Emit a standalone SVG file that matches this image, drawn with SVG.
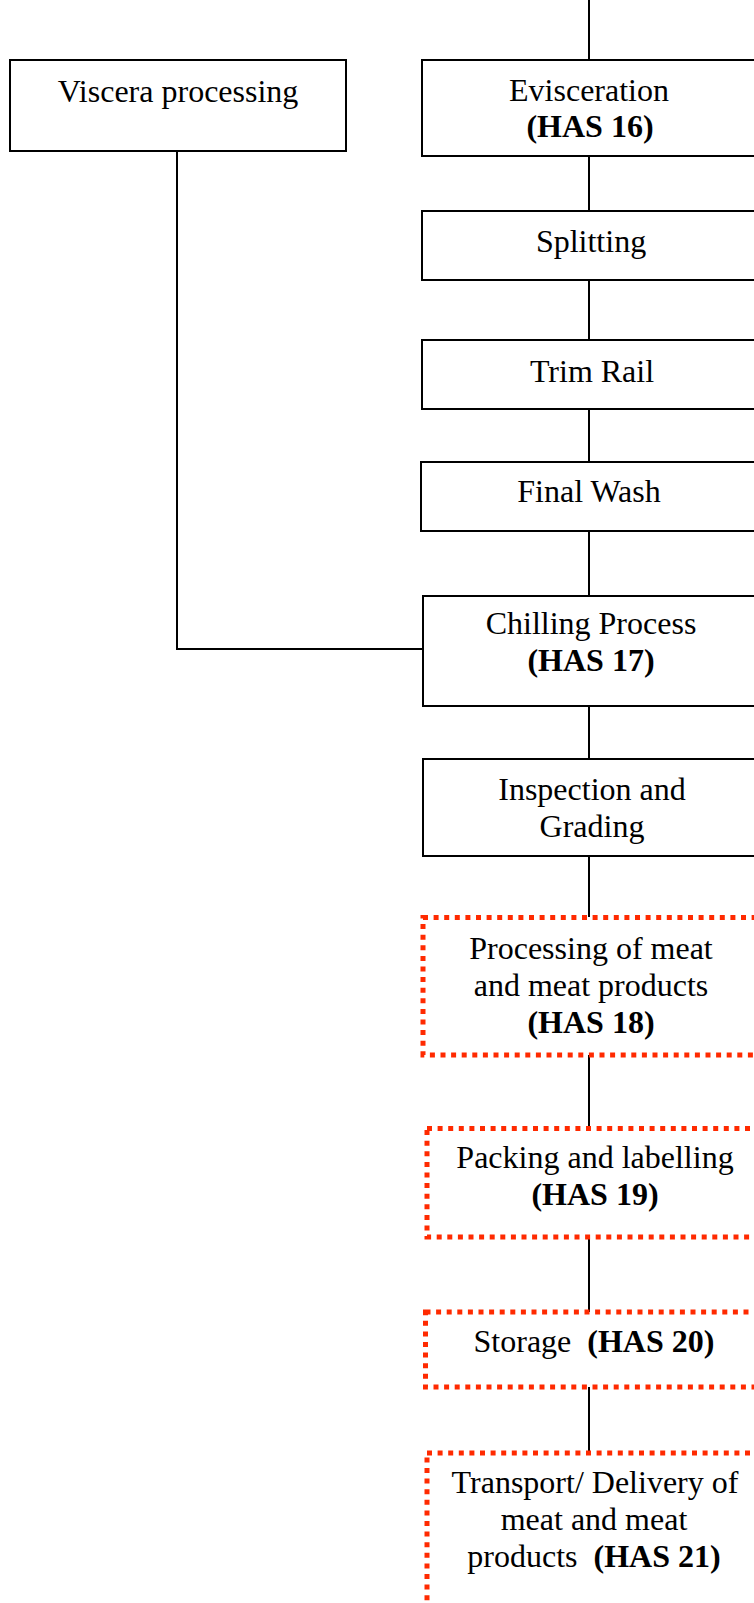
<svg xmlns="http://www.w3.org/2000/svg" width="754" height="1603" viewBox="0 0 754 1603">
<style>
.box{fill:#ffffff;stroke:#000000;stroke-width:2}
.rbox{fill:#ffffff;stroke:#ff2a00;stroke-width:5;stroke-dasharray:5 5.6}
.t{font-family:"Liberation Serif","Times New Roman",serif;font-size:32px;fill:#000000;text-anchor:middle}
.b{font-weight:bold}
.conn{stroke:#000000;stroke-width:2;fill:none}
</style>
<rect x="0" y="0" width="754" height="1603" fill="#ffffff"/>
<g id="connectors">
<line class="conn" x1="589" y1="0" x2="589" y2="60"/>
<line class="conn" x1="589" y1="156" x2="589" y2="211"/>
<line class="conn" x1="589" y1="280" x2="589" y2="340"/>
<line class="conn" x1="589" y1="409" x2="589" y2="462"/>
<line class="conn" x1="589" y1="531" x2="589" y2="596"/>
<line class="conn" x1="589" y1="706" x2="589" y2="759"/>
<line class="conn" x1="589" y1="856" x2="589" y2="917"/>
<line class="conn" x1="589" y1="1055" x2="589" y2="1128"/>
<line class="conn" x1="589" y1="1237" x2="589" y2="1312"/>
<line class="conn" x1="589" y1="1387" x2="589" y2="1453"/>
<polyline class="conn" points="177,151 177,649 423,649"/>
</g>
<g id="viscera">
<rect class="box" x="10" y="60" width="336" height="91"/>
<text class="t" x="178" y="102">Viscera processing</text>
</g>
<g id="evisceration">
<rect class="box" x="422" y="60" width="336" height="96"/>
<text class="t" x="589" y="101">Evisceration</text>
<text class="t b" x="590" y="137">(HAS 16)</text>
</g>
<g id="splitting">
<rect class="box" x="422" y="211" width="336" height="69"/>
<text class="t" x="591" y="252">Splitting</text>
</g>
<g id="trimrail">
<rect class="box" x="422" y="340" width="336" height="69"/>
<text class="t" x="592" y="382">Trim Rail</text>
</g>
<g id="finalwash">
<rect class="box" x="421" y="462" width="336" height="69"/>
<text class="t" x="589" y="502">Final Wash</text>
</g>
<g id="chilling">
<rect class="box" x="423" y="596" width="336" height="110"/>
<text class="t" x="591" y="634">Chilling Process</text>
<text class="t b" x="591" y="671">(HAS 17)</text>
</g>
<g id="inspection">
<rect class="box" x="423" y="759" width="336" height="97"/>
<text class="t" x="592" y="800">Inspection and</text>
<text class="t" x="592" y="837">Grading</text>
</g>
<g id="processing">
<rect class="rbox" x="423" y="917.5" width="340" height="137.5"/>
<text class="t" x="591" y="959">Processing of meat</text>
<text class="t" x="591" y="996">and meat products</text>
<text class="t b" x="591" y="1033">(HAS 18)</text>
</g>
<g id="packing">
<rect class="rbox" x="427" y="1128.5" width="340" height="108.5"/>
<text class="t" x="595" y="1168">Packing and labelling</text>
<text class="t b" x="595" y="1205">(HAS 19)</text>
</g>
<g id="storage">
<rect class="rbox" x="425.5" y="1312" width="340" height="75"/>
<text class="t" x="594" y="1352" xml:space="preserve">Storage  <tspan class="b">(HAS 20)</tspan></text>
</g>
<g id="transport">
<rect class="rbox" x="427" y="1453" width="340" height="200"/>
<text class="t" x="595" y="1493">Transport/ Delivery of</text>
<text class="t" x="594" y="1530">meat and meat</text>
<text class="t" x="594" y="1567" xml:space="preserve">products  <tspan class="b">(HAS 21)</tspan></text>
</g>
</svg>
